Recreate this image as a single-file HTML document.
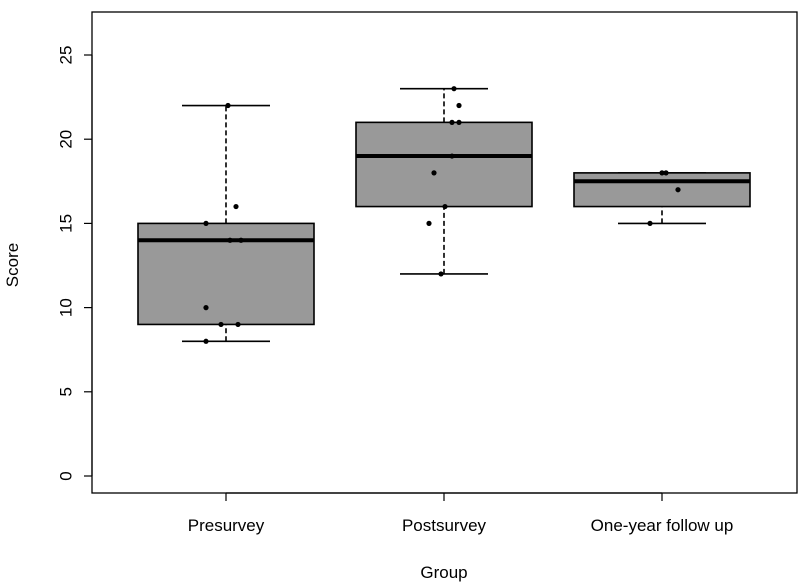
<!DOCTYPE html>
<html><head><meta charset="utf-8"><style>body{margin:0;background:#fff}svg{display:block}text{font-family:"Liberation Sans",Arial,sans-serif;fill:#000}</style></head>
<body>
<svg id="chart" width="800" height="586">
<rect x="92" y="12" width="705" height="481" fill="none" stroke="#000" stroke-width="1.3"/>
<g id="yaxis"></g>
<g id="xaxis"></g>
<g id="boxes"></g>
<text x="18" y="265" font-size="17" text-anchor="middle" transform="rotate(-90 18 265)">Score</text>
<text x="444" y="578" font-size="17" text-anchor="middle">Group</text>
</svg>
<script>
const categories=["Presurvey","Postsurvey","One-year follow up"];
const whiskerLow=[8,12,15];
const q1=[9,16,16];
const medians=[14,19,17.5];
const q3=[15,21,18];
const whiskerHigh=[22,23,18];
const points=[
 [[22,0.02],[16,0.1],[15,-0.2],[14,0.04],[14,0.15],[10,-0.2],[9,-0.05],[9,0.12],[8,-0.2]],
 [[23,0.1],[22,0.15],[21,0.08],[21,0.15],[19,0.08],[18,-0.1],[16,0.01],[15,-0.15],[12,-0.03]],
 [[18,0],[18,0.04],[17,0.16],[15,-0.12]]
];
const yTicks=[0,5,10,15,20,25];
const NS="http://www.w3.org/2000/svg";
const y=v=>476-v*16.84;
const x=i=>226+i*218;
const bw=176;
const jit=100;
function mk(tag,attrs,parent){const e=document.createElementNS(NS,tag);for(const k in attrs)e.setAttribute(k,attrs[k]);parent.appendChild(e);return e;}
const ya=document.getElementById('yaxis');
mk('line',{x1:92,x2:92,y1:y(0),y2:y(25),stroke:'#000','stroke-width':1.2},ya);
yTicks.forEach(t=>{
 const l=mk('line',{x1:84,x2:92,y1:y(t),y2:y(t),stroke:'#000','stroke-width':1.2},ya);
 
 
 const tx=mk('text',{x:67,y:y(t),'font-size':17,'text-anchor':'middle',transform:`rotate(-90 67 ${y(t)})`,'dominant-baseline':'middle'},ya);
 tx.textContent=t;
 
 
});
const xa=document.getElementById('xaxis');
mk('line',{x1:x(0),x2:x(2),y1:493,y2:493,stroke:'#000','stroke-width':1.2},xa);
categories.forEach((c,i)=>{
 const l=mk('line',{x1:x(i),x2:x(i),y1:493,y2:501,stroke:'#000','stroke-width':1.2},xa);
 
 
 const tx=mk('text',{x:x(i),y:531,'font-size':17,'text-anchor':'middle'},xa);
 tx.textContent=c;
 
 
});
const bg=document.getElementById('boxes');
categories.forEach((c,i)=>{
 const g=mk('g',{},bg);
 
 
 const cx=x(i);
 mk('line',{x1:cx,x2:cx,y1:y(whiskerLow[i]),y2:y(q1[i]),stroke:'#000','stroke-width':1.6,'stroke-dasharray':'5,3'},g);
 mk('line',{x1:cx,x2:cx,y1:y(q3[i]),y2:y(whiskerHigh[i]),stroke:'#000','stroke-width':1.6,'stroke-dasharray':'5,3'},g);
 mk('line',{x1:cx-44,x2:cx+44,y1:y(whiskerLow[i]),y2:y(whiskerLow[i]),stroke:'#000','stroke-width':1.6},g);
 mk('line',{x1:cx-44,x2:cx+44,y1:y(whiskerHigh[i]),y2:y(whiskerHigh[i]),stroke:'#000','stroke-width':1.6},g);
 mk('rect',{x:cx-bw/2,y:y(q3[i]),width:bw,height:y(q1[i])-y(q3[i]),fill:'#999',stroke:'#000','stroke-width':1.6},g);
 mk('line',{x1:cx-bw/2,x2:cx+bw/2,y1:y(medians[i]),y2:y(medians[i]),stroke:'#000','stroke-width':4},g);
 points[i].forEach(p=>{
  const d=mk('circle',{cx:cx+p[1]*jit,cy:y(p[0]),r:2.6,fill:'#000'},g);
  
  
 });
});
</script>
</body></html>
